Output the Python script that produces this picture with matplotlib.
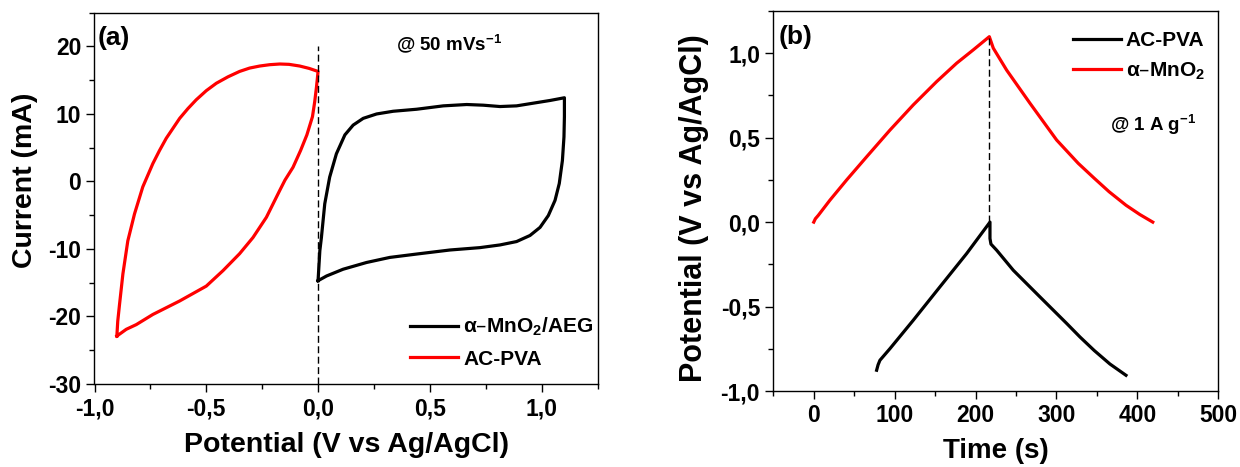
import numpy as np
import matplotlib
matplotlib.use('Agg')
import matplotlib.pyplot as plt
from matplotlib.ticker import MultipleLocator, FuncFormatter

plt.rcParams['font.family'] = ['Liberation Sans', 'DejaVu Sans']
plt.rcParams['font.weight'] = 'bold'
plt.rcParams['mathtext.default'] = 'regular'

RED = '#FF0000'
BLACK = '#000000'

# (a) CV, alpha-MnO2/AEG: anodic sweep then cathodic sweep
cv_mno2_v = [0.0, 0.008, 0.015, 0.030, 0.052, 0.082, 0.120, 0.157, 0.202, 0.262,
             0.336, 0.441, 0.560, 0.665, 0.739, 0.814, 0.888, 0.963, 1.038, 1.102,
             1.102, 1.100, 1.093, 1.079, 1.060, 1.030, 0.993, 0.948, 0.888, 0.814,
             0.724, 0.590, 0.441, 0.321, 0.217, 0.112, 0.038, 0.0]
cv_mno2_i = [-14.7, -10.25, -8.3, -3.3, 0.65, 4.1, 6.9, 8.35, 9.35, 10.0,
             10.4, 10.7, 11.2, 11.4, 11.3, 11.1, 11.2, 11.6, 12.0, 12.4,
             9.6, 6.6, 3.1, -0.3, -2.8, -5.05, -6.8, -8.0, -8.9, -9.4,
             -9.8, -10.15, -10.75, -11.25, -12.0, -13.0, -14.0, -14.7]

# (a) CV, AC-PVA
cv_ac_v = [-0.900, -0.896, -0.888, -0.873, -0.851, -0.821, -0.784, -0.739, -0.709,
           -0.679, -0.619, -0.582, -0.545, -0.500, -0.455, -0.403, -0.351, -0.306,
           -0.261, -0.216, -0.171, -0.130, -0.082, -0.040, 0.0,
           -0.003, -0.007, -0.015, -0.025, -0.05, -0.078, -0.112, -0.148, -0.171,
           -0.231, -0.291, -0.351, -0.425, -0.50, -0.619, -0.739, -0.813, -0.858,
           -0.900]
cv_ac_i = [-22.9, -20.7, -18.2, -13.7, -8.8, -4.8, -0.8, 2.65, 4.6,
           6.4, 9.35, 10.8, 12.1, 13.45, 14.55, 15.5, 16.3, 16.8,
           17.1, 17.3, 17.4, 17.35, 17.1, 16.75, 16.3,
           15.3, 14.0, 11.8, 9.6, 6.9, 4.6, 2.1, 0.2, -1.3,
           -5.3, -8.3, -10.7, -13.2, -15.5, -17.7, -19.7, -21.2, -21.9,
           -22.9]

# (b) GCD, alpha-MnO2
gcd_mno2_t = [0, 2, 5.6, 20, 40.7, 65.4, 94.2, 123, 151.9, 176.6, 197.2, 217,
              221.9, 238.4, 267.2, 300.2, 326.9, 346.6, 365, 385.9, 403, 419]
gcd_mno2_v = [0.0, 0.02, 0.04, 0.13, 0.25, 0.387, 0.545, 0.694, 0.832, 0.941, 1.02, 1.098,
              1.03, 0.90, 0.704, 0.486, 0.348, 0.26, 0.18, 0.10, 0.045, 0.0]
# (b) GCD, AC-PVA
gcd_ac_t = [77.7, 79.5, 81.8, 94.2, 123, 156, 189, 217.8,
            217.8, 219, 226, 246.6, 279.6, 312.6, 329, 346.6, 366, 385.9]
gcd_ac_v = [-0.877, -0.845, -0.818, -0.749, -0.581, -0.383, -0.186, 0.0,
            -0.097, -0.13, -0.166, -0.285, -0.443, -0.60, -0.68, -0.76, -0.84, -0.907]

W, H = 1240, 467
fig = plt.figure(figsize=(W / 100, H / 100), dpi=100)


def px_axes(l, t, r, b):
    return fig.add_axes([l / W, 1 - b / H, (r - l) / W, (b - t) / H])


ax_a = px_axes(94.5, 12.7, 597.5, 384)
ax_b = px_axes(773.3, 11, 1218.3, 391)


def comma(v, pos):
    return ('%.1f' % v).replace('.', ',')


def style(ax):
    for sp in ax.spines.values():
        sp.set_linewidth(1.0)
    ax.tick_params(which='both', direction='out', top=False, right=False,
                   labelsize=16.5, width=1.0, pad=3.5)
    ax.tick_params(which='major', length=6)
    ax.tick_params(which='minor', length=3.5)
    for lbl in ax.get_xticklabels() + ax.get_yticklabels():
        lbl.set_fontweight('bold')


# ---- panel (a)
ax_a.plot(cv_mno2_v, cv_mno2_i, color=BLACK, lw=2.3, label=r'α–MnO$_2$/AEG')
ax_a.plot(cv_ac_v, cv_ac_i, color=RED, lw=2.3, label='AC-PVA')
ax_a.plot([0, 0], [-30, 20], color=BLACK, lw=1.0, ls=(0, (5, 2.5)))
ax_a.set_xlim(-1.0, 1.25)
ax_a.set_ylim(-30, 25)
ax_a.xaxis.set_major_locator(MultipleLocator(0.5))
ax_a.xaxis.set_minor_locator(MultipleLocator(0.25))
ax_a.yaxis.set_major_locator(MultipleLocator(10))
ax_a.yaxis.set_minor_locator(MultipleLocator(5))
ax_a.xaxis.set_major_formatter(FuncFormatter(comma))
ax_a.yaxis.set_major_formatter(FuncFormatter(lambda v, p: '%d' % v if v <= 20 else ''))
style(ax_a)
ax_a.set_xlabel('Potential (V vs Ag/AgCl)', fontsize=20.5, fontweight='bold')
ax_a.set_ylabel('Current (mA)', fontsize=20.5, fontweight='bold')
ax_a.xaxis.set_label_coords((346 - 94.5) / 503, (384 - 432) / 371.3)
ax_a.yaxis.set_label_coords((38 - 94.5) / 503, (384 - 180) / 371.3)
ax_a.text(0.006, 0.965, '(a)', transform=ax_a.transAxes, fontsize=19,
          fontweight='bold', va='top', ha='left')
ax_a.text(0.35, 20.4, r'@ 50 mVs$^{-1}$', fontsize=13.5, fontweight='bold',
          va='center')
ax_a.legend(loc='upper left', bbox_to_anchor=(410 / W, 1 - 316 / H),
            bbox_transform=fig.transFigure, frameon=False, borderpad=0,
            borderaxespad=0, handlelength=2.3, handletextpad=0.25,
            labelspacing=0.55, prop={'weight': 'bold', 'size': 15})

# ---- panel (b)
ax_b.plot(gcd_ac_t, gcd_ac_v, color=BLACK, lw=2.3, label='AC-PVA')
ax_b.plot(gcd_mno2_t, gcd_mno2_v, color=RED, lw=2.3, label=r'α–MnO$_2$')
ax_b.plot([217, 217], [0.0, 1.1], color=BLACK, lw=1.0, ls=(0, (5, 2.5)))
ax_b.set_xlim(-50, 500)
ax_b.set_ylim(-1.0, 1.25)
ax_b.xaxis.set_major_locator(MultipleLocator(100))
ax_b.xaxis.set_minor_locator(MultipleLocator(50))
ax_b.yaxis.set_major_locator(MultipleLocator(0.5))
ax_b.yaxis.set_minor_locator(MultipleLocator(0.25))
ax_b.xaxis.set_major_formatter(FuncFormatter(lambda v, p: '%d' % v if v >= 0 else ''))
ax_b.yaxis.set_major_formatter(FuncFormatter(comma))
style(ax_b)
ax_b.set_xlabel('Time (s)', fontsize=20, fontweight='bold')
ax_b.set_ylabel('Potential (V vs Ag/AgCl)', fontsize=22, fontweight='bold')
ax_b.xaxis.set_label_coords((996 - 773.3) / 445, (391 - 438) / 380)
ax_b.yaxis.set_label_coords((709 - 773.3) / 445, (391 - 208) / 380)
ax_b.text(0.011, 0.962, '(b)', transform=ax_b.transAxes, fontsize=19,
          fontweight='bold', va='top', ha='left')
ax_b.text(366, 0.575, r'@ 1 A g$^{-1}$', fontsize=13.5, fontweight='bold',
          va='center')
ax_b.legend(loc='upper left', bbox_to_anchor=(1072.7 / W, 1 - 31 / H),
            bbox_transform=fig.transFigure, frameon=False, borderpad=0,
            borderaxespad=0, handlelength=2.3, handletextpad=0.25,
            labelspacing=0.5, prop={'weight': 'bold', 'size': 15})

fig.savefig('out.png', dpi=100)
